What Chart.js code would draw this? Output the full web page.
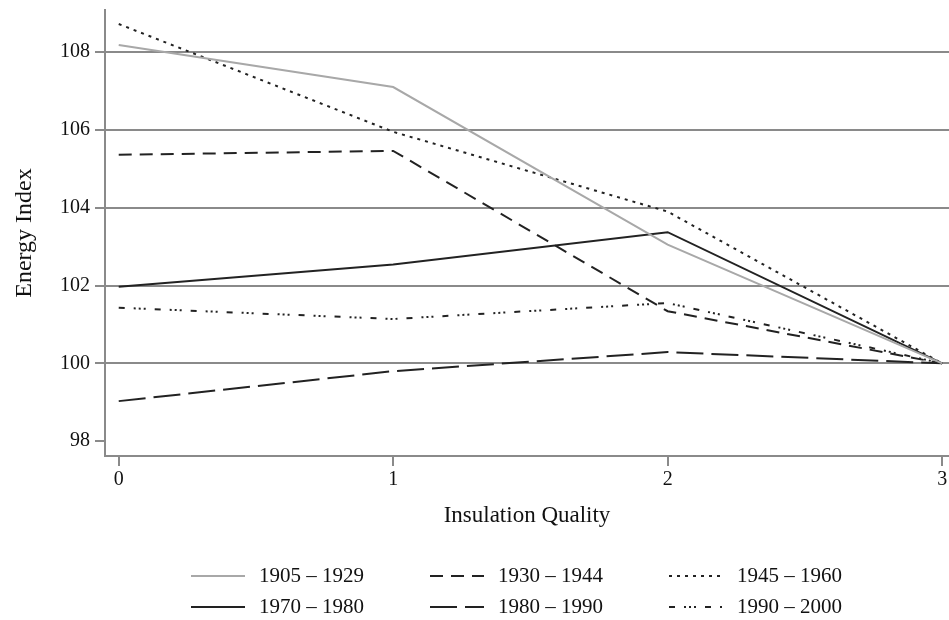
<!DOCTYPE html>
<html>
<head>
<meta charset="utf-8">
<script src="https://cdn.jsdelivr.net/npm/chart.js@4"></script>
<style>
  html, body { margin: 0; padding: 0; background: #fff; }
  #wrap { width: 949px; height: 620px; }
</style>
</head>
<body>
<div id="wrap"><canvas id="energyChart" width="949" height="620"></canvas></div>
<script>
const quality = [0, 1, 2, 3];
const yTicks = [98, 100, 102, 104, 106, 108];

const s1905 = [108.18, 107.10, 103.05, 100];
const s1930 = [105.36, 105.46, 101.34, 100];
const s1945 = [108.72, 105.95, 103.90, 100];
const s1970 = [101.97, 102.54, 103.37, 100];
const s1980 = [99.03, 99.80, 100.29, 100];
const s1990 = [101.43, 101.14, 101.55, 100];

const serif = "'Liberation Serif', 'DejaVu Serif', serif";
const gridGray = '#8a8a8a';

function pts(arr) {
  return arr.map((v, i) => ({ x: quality[i], y: v }));
}

function line(label, data, color, dash) {
  return {
    label: label,
    data: pts(data),
    borderColor: color,
    borderWidth: 2,
    borderDash: dash,
    pointRadius: 0,
    fill: false,
    tension: 0
  };
}

/* legend drawn by hand, 3 columns x 2 rows */
const gridLegend = {
  id: 'gridLegend',
  afterDraw(chart) {
    const c = chart.ctx;
    const cols = [191, 430, 669];
    const rows = [576, 607];
    chart.data.datasets.forEach((ds, i) => {
      const x = cols[i % 3];
      const y = rows[Math.floor(i / 3)];
      c.save();
      c.strokeStyle = ds.borderColor;
      c.lineWidth = ds.borderWidth;
      c.setLineDash(ds.borderDash || []);
      c.beginPath();
      c.moveTo(x, y);
      c.lineTo(x + 54, y);
      c.stroke();
      c.setLineDash([]);
      c.fillStyle = '#111';
      c.font = '21px ' + serif;
      c.textBaseline = 'middle';
      c.fillText(ds.label, x + 68, y);
      c.restore();
    });
  }
};

new Chart(document.getElementById('energyChart'), {
  type: 'line',
  data: {
    datasets: [
      line('1905 – 1929', s1905, '#a8a8a8', []),
      line('1930 – 1944', s1930, '#222', [13, 8]),
      line('1945 – 1960', s1945, '#222', [3, 5]),
      line('1970 – 1980', s1970, '#222', []),
      line('1980 – 1990', s1980, '#222', [27, 8]),
      line('1990 – 2000', s1990, '#222', [6, 9, 2, 3, 2, 3, 2, 9])
    ]
  },
  plugins: [gridLegend],
  options: {
    responsive: false,
    animation: false,
    layout: { padding: { top: 10, right: 0, bottom: 84, left: 0 } },
    plugins: {
      legend: { display: false },
      tooltip: { enabled: false }
    },
    scales: {
      x: {
        type: 'linear',
        min: -0.05,
        max: 3.025,
        afterFit(s) { s.height = 80; s.paddingLeft = 0; s.paddingRight = 0; },
        afterBuildTicks(s) { s.ticks = quality.map(v => ({ value: v })); },
        grid: { color: 'rgba(0,0,0,0)', tickColor: gridGray, tickLength: 10, lineWidth: 2 },
        border: { color: gridGray, width: 2 },
        ticks: { color: '#111', font: { family: serif, size: 20 }, padding: 2, maxRotation: 0 },
        title: {
          display: true,
          text: 'Insulation Quality',
          color: '#111',
          font: { family: serif, size: 23 },
          padding: { top: 0, bottom: 6 }
        }
      },
      y: {
        min: 97.62,
        max: 109.08,
        afterFit(s) { s.width = 105; s.paddingTop = 0; s.paddingBottom = 0; },
        afterBuildTicks(s) { s.ticks = yTicks.map(v => ({ value: v })); },
        grid: {
          color: ctx => (ctx.tick && ctx.tick.value === 98) ? 'rgba(0,0,0,0)' : gridGray,
          tickColor: gridGray,
          tickLength: 10,
          lineWidth: 2
        },
        border: { color: gridGray, width: 2 },
        ticks: { color: '#111', font: { family: serif, size: 20 }, padding: 5 },
        title: {
          display: true,
          text: 'Energy Index',
          color: '#111',
          font: { family: serif, size: 24 },
          padding: { top: 10, bottom: 0 }
        }
      }
    }
  }
});
</script>
</body>
</html>
